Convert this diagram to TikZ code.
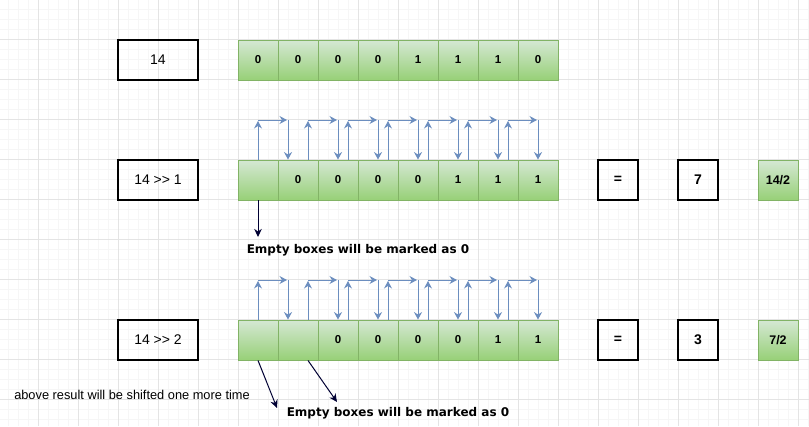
\documentclass[tikz,border=0pt]{standalone}
\usepackage{fontspec}
\setmainfont{Liberation Sans}
\newfontfamily\notefont{DejaVu Sans}
\usetikzlibrary{arrows.meta, positioning, calc}

\definecolor{bitline}{HTML}{82B366}
\definecolor{bittop}{HTML}{D5E8D4}
\definecolor{bitbot}{HTML}{97D077}
\definecolor{shiftblue}{HTML}{6C8EBF}
\definecolor{navy}{HTML}{000033}
\definecolor{gridmajor}{HTML}{E4E4E4}
\definecolor{gridminor}{HTML}{F6F6F6}

\newcommand{\shr}{>\kern0pt>}

\begin{document}
\begin{tikzpicture}[
    x=1pt, y=-1pt,
    valbox/.style={draw, line width=1.2pt, minimum width=80pt, minimum height=40pt, inner sep=0pt, font=\fontsize{14}{16}\selectfont},
    eqbox/.style={draw, line width=1.2pt, minimum width=40pt, minimum height=40pt, inner sep=0pt, font=\bfseries\fontsize{14}{16}\selectfont},
    bit/.style={draw=bitline, line width=0.9pt, top color=bittop, bottom color=bitbot, minimum width=40pt, minimum height=40pt, inner sep=0pt, font=\bfseries\fontsize{11.5}{13}\selectfont},
    halfbox/.style={bit, font=\bfseries\fontsize{12.5}{14}\selectfont},
    shiftarr/.style={-{Stealth[length=7.5pt, width=8pt, inset=2.5pt]}, shiftblue, line width=1pt},
    pointer/.style={-{Stealth[length=8pt, width=7.5pt, inset=2.5pt]}, navy, line width=1pt},
    note/.style={font=\notefont\bfseries\fontsize{12}{14}\selectfont, inner sep=0pt},
    aside/.style={font=\fontsize{12.8}{15}\selectfont, inner sep=0pt},
]
\useasboundingbox (0,0) rectangle (809,426);
\fill[white] (0,0) rectangle (809,426);

% ── Background grid ──
\foreach \x in {8,18,...,808} \draw[gridminor, line width=0.6pt] (\x,0) -- (\x,426);
\foreach \y in {9.5,19.5,...,426} \draw[gridminor, line width=0.6pt] (0,\y) -- (809,\y);
\foreach \x in {38,78,...,808} \draw[gridmajor, line width=0.8pt] (\x,0) -- (\x,426);
\foreach \y in {39.5,79.5,...,426} \draw[gridmajor, line width=0.8pt] (0,\y) -- (809,\y);

% ── Values ──
\node[valbox] (v0) at (158, 60) {14};
\node[valbox] (v1) at (158, 180) {14 \shr{} 1};
\node[valbox] (v2) at (158, 340) {14 \shr{} 2};

% ── Bit rows ──
\foreach \v [count=\i from 0] in {0,0,0,0,1,1,1,0}
    \node[bit] (a\i) at (258+40*\i, 60) {\v};
\foreach \v [count=\i from 0] in {{},0,0,0,0,1,1,1}
    \node[bit] (b\i) at (258+40*\i, 180) {\v};
\foreach \v [count=\i from 0] in {{},{},0,0,0,0,1,1}
    \node[bit] (c\i) at (258+40*\i, 340) {\v};

% ── Results ──
\node[eqbox] (eq1) at (618, 180) {=};
\node[eqbox] (res1) at (698, 180) {7};
\node[halfbox] (half1) at (778, 180) {14/2};

\node[eqbox] (eq2) at (618, 340) {=};
\node[eqbox] (res2) at (698, 340) {3};
\node[halfbox] (half2) at (778, 340) {7/2};

% ── Shift arrows (one hop to the right) ──
\foreach \r/\top in {b/120, c/280} {
    \foreach \u/\d [count=\k from 0] in {258/288, 308/338, 348/378, 388/418, 428/458, 468/498, 508/538} {
        \pgfmathtruncatemacro{\n}{\k+1}
        \coordinate (\r up\k) at (\u, \top);
        \coordinate (\r dn\k) at (\d, \top);
        \draw[shiftarr] (\r up\k |- \r\k.north) -- ($(\r up\k)+(0,1)$);
        \draw[shiftarr] (\r up\k) -- ($(\r dn\k)+(-1,0)$);
        \draw[shiftarr] (\r dn\k) -- (\r dn\k |- \r\n.north);
    }
}

% ── Notes ──
\coordinate (p0) at (258, 237);
\draw[pointer] (b0.south) -- (p0);
\node[note] (n1) at (358, 250) {Empty boxes will be marked as 0};

\coordinate (p1) at (277, 408);
\coordinate (p2) at (337, 402);
\draw[pointer] (c0.south) -- (p1);
\draw[pointer] ($(c1.south)+(10,0)$) -- (p2);
\node[aside] (n2) at (132, 395) {above result will be shifted one more time};
\node[note] (n3) at (398, 413) {Empty boxes will be marked as 0};

\end{tikzpicture}
\end{document}
